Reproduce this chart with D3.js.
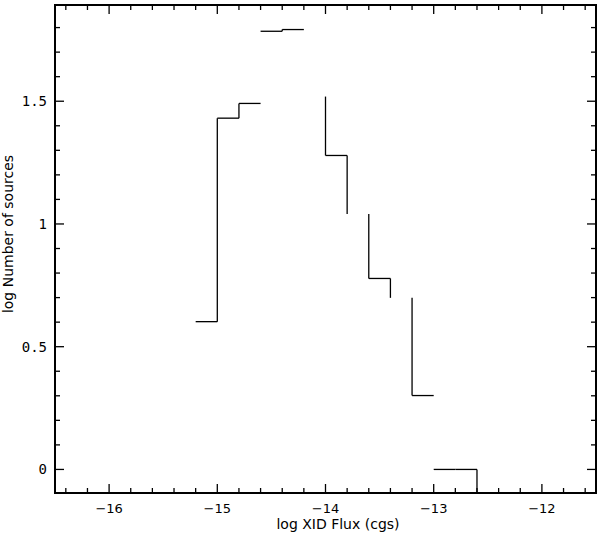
<!DOCTYPE html>
<html>
<head>
<meta charset="utf-8">
<script src="https://cdn.jsdelivr.net/npm/d3@7"></script>
<style>
  html, body { margin: 0; padding: 0; background: #fff; }
  svg { display: block; }
</style>
</head>
<body>
<script>
// ---- data ----
const binEdges = [-15.2, -15.0, -14.8, -14.6, -14.4, -14.2, -14.0, -13.8, -13.6, -13.4, -13.2, -13.0, -12.8, -12.6];
const logCounts = [0.602, 1.431, 1.491, 1.785, 1.792, 1.519, 1.279, 1.041, 0.778, 0.699, 0.301, 0, 0];
// which bin tops and which bin-edge risers are visible in the original drawing
const topShown = [1, 1, 1, 1, 1, 0, 1, 0, 1, 0, 1, 1, 1];
const riserShown = [0, 1, 1, 0, 1, 0, 1, 1, 1, 1, 1, 0, 0, 1];
const xMajorTicks = [-16, -15, -14, -13, -12];
const xTickLabels = ["\u221216", "\u221215", "\u221214", "\u221213", "\u221212"];
const yMajorTicks = [0, 0.5, 1, 1.5];
const yTickLabels = ["0", "0.5", "1", "1.5"];
const xTitle = "log XID Flux (cgs)";
const yTitle = "log Number of sources";

// ---- layout ----
const W = 600, H = 535;
const L = 55, T = 5, R = 596, B = 493;

const svg = d3.select("body").append("svg").attr("width", W).attr("height", H);

const x = d3.scaleLinear().domain([-16.5, -11.5]).range([L, R]);
const y = d3.scaleLinear().domain([-0.096, 1.892]).range([B, T]);

const xMinor = d3.range(-16.4, -11.5, 0.2).map(v => Math.round(v * 10) / 10)
  .filter(v => !xMajorTicks.includes(v));
const yMinor = d3.range(-0.0, 1.9, 0.1).map(v => Math.round(v * 10) / 10)
  .filter(v => !yMajorTicks.includes(v));

const ticks = svg.append("g").attr("stroke", "#000").attr("stroke-width", 1.3);
function drawAxisTicks(vals, len) {
  vals.forEach(v => {
    const px = x(v);
    ticks.append("line").attr("x1", px).attr("x2", px).attr("y1", B).attr("y2", B - len);
    ticks.append("line").attr("x1", px).attr("x2", px).attr("y1", T).attr("y2", T + len);
  });
}
function drawYTicks(vals, len) {
  vals.forEach(v => {
    const py = y(v);
    ticks.append("line").attr("x1", L).attr("x2", L + len).attr("y1", py).attr("y2", py);
    ticks.append("line").attr("x1", R).attr("x2", R - len).attr("y1", py).attr("y2", py);
  });
}
drawAxisTicks(xMinor, 5);
drawAxisTicks(xMajorTicks, 9);
drawYTicks(yMinor, 5);
drawYTicks(yMajorTicks, 9);

// frame
svg.append("rect").attr("x", L).attr("y", T).attr("width", R - L).attr("height", B - T)
  .attr("fill", "none").attr("stroke", "#000").attr("stroke-width", 2);

// tick labels
svg.append("g").selectAll("text").data(xMajorTicks).join("text")
  .attr("x", d => x(d)).attr("y", 513)
  .attr("text-anchor", "middle")
  .attr("font-family", "DejaVu Sans").attr("font-size", 13)
  .text((d, i) => xTickLabels[i]);

svg.append("g").selectAll("text").data(yMajorTicks).join("text")
  .attr("x", 47).attr("y", d => y(d) + 5)
  .attr("text-anchor", "end")
  .attr("font-family", "DejaVu Sans Mono").attr("font-size", 14)
  .text((d, i) => yTickLabels[i]);

// titles
svg.append("text").attr("x", 338).attr("y", 529)
  .attr("text-anchor", "middle")
  .attr("font-family", "DejaVu Sans").attr("font-size", 14)
  .text(xTitle);
svg.append("text")
  .attr("transform", `translate(13,234) rotate(-90)`)
  .attr("text-anchor", "middle")
  .attr("font-family", "DejaVu Sans").attr("font-size", 14)
  .text(yTitle);

// histogram steps
const hist = svg.append("g").attr("stroke", "#000").attr("stroke-width", 1.3).attr("fill", "none");
const n = logCounts.length;
logCounts.forEach((v, i) => {
  if (!topShown[i]) return;
  hist.append("line")
    .attr("x1", x(binEdges[i])).attr("x2", x(binEdges[i + 1]))
    .attr("y1", y(v)).attr("y2", y(v));
});
const yFloor = y.domain()[0];
binEdges.forEach((e, i) => {
  if (!riserShown[i]) return;
  const a = i > 0 ? logCounts[i - 1] : yFloor;
  const b = i < n ? logCounts[i] : yFloor;
  hist.append("line")
    .attr("x1", x(e)).attr("x2", x(e))
    .attr("y1", y(a)).attr("y2", y(b));
});
</script>
</body>
</html>
